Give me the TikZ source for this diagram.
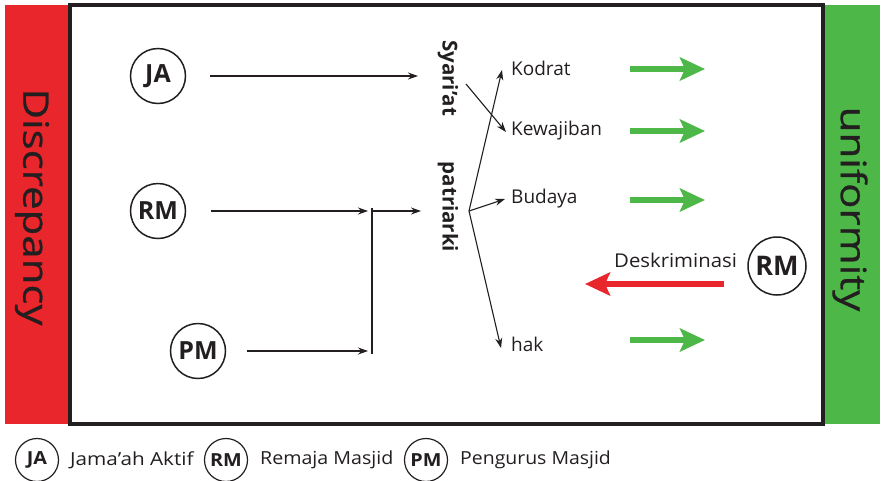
\documentclass[tikz,border=0pt]{standalone}
\usepackage{fontspec}
\usepackage{graphicx}
\setmainfont{Open Sans}
\newfontfamily\sidefont{Open Sans}[FakeBold=0.7]
\usetikzlibrary{arrows.meta}
\definecolor{barred}{HTML}{E8262B}
\definecolor{bargreen}{HTML}{4DB848}
\definecolor{ink}{HTML}{231F20}
% horizontally widened text
\newcommand{\wtext}[2]{\scalebox{#1}[1]{#2}}
\begin{document}
\begin{tikzpicture}[x=1pt,y=-1pt,color=ink,
  actor/.style={circle,draw,line width=1.5pt,minimum size=55pt,inner sep=0pt,font=\fontsize{25}{25}\selectfont\bfseries},
  legendactor/.style={circle,draw,line width=1.2pt,minimum size=43pt,inner sep=0pt,font=\fontsize{18}{18}\selectfont\bfseries},
  lbl/.style={anchor=west,inner sep=0pt,font=\fontsize{19}{19}\selectfont},
  vlbl/.style={rotate=-90,inner sep=0pt,font=\fontsize{20.5}{20.5}\selectfont\bfseries},
  sidelbl/.style={rotate=-90,inner sep=0pt,font=\fontsize{35}{35}\sidefont},
  arr/.style={-{Stealth[length=10pt,width=7pt]},line width=1.1pt},
  greenarr/.style={-{Stealth[length=25pt,width=23pt,inset=5pt]},line width=6.5pt,draw=bargreen},
  redarr/.style={-{Stealth[length=25pt,width=23pt,inset=5pt]},line width=5.5pt,draw=barred},
  legtext/.style={anchor=west,inner sep=0pt,font=\fontsize{18}{18}\selectfont}]
\useasboundingbox[fill=white] (0,0) rectangle (883,480);
% side bars and frame
\fill[barred] (5,5) rectangle (70,424);
\fill[bargreen] (823,5) rectangle (880,424);
\draw[line width=3.5pt] (70,5) rectangle (823,424);
\node[sidelbl] (disc) at (32,207) {\wtext{1.2}{Discrepancy}};
\node[sidelbl] (unif) at (850,209) {\wtext{1.2}{uniformity}};
% actors
\node[actor] (ja) at (158,76) {JA};
\node[actor] (rm) at (158,211) {RM};
\node[actor] (pm) at (198,351) {PM};
% concepts
\node[vlbl] (syariat) at (448,78) {Syari'at};
\node[vlbl] (patri) at (448,207) {patriarki};
\coordinate (syr) at (466,84);
\coordinate (pat) at (469,211);
\coordinate (junc) at (372,211);
\coordinate (pmj) at (372,354);
% outcomes
\node[lbl] (kodrat) at (511,68) {Kodrat};
\node[lbl] (kewaj) at (511,131) {Kewajiban};
\node[lbl] (budaya) at (511,199) {Budaya};
\node[lbl] (hak) at (511,344) {hak};
% connectors
\draw[arr] (ja.east) ++(24,0) coordinate (jas) -- (418,76) coordinate (jae);
\draw[arr] (rm.east) ++(25,0) coordinate (rms) -- (368,211);
\draw[arr] (pm.east) ++(21,0) coordinate (pms) -- (368,351);
\draw[line width=1.1pt] (372,208) -- (pmj);
\draw[arr] (junc) -- (421,211);
\draw[arr] (syr) -- ([xshift=-5pt,yshift=-1pt]kewaj.west);
\draw[arr] (pat) -- ([xshift=-9pt,yshift=-2pt]kodrat.west);
\draw[arr] (pat) -- ([xshift=-6pt]budaya.west);
\draw[arr] (pat) -- ([xshift=-10pt,yshift=-4pt]hak.west);
% green flow arrows
\foreach \n/\yy in {kodrat/69,kewaj/131,budaya/200,hak/340}
  \draw[greenarr] (630,\yy) -- (705,\yy);
% discrimination
\node[actor,minimum size=58pt,font=\fontsize{27}{27}\selectfont\bfseries] (rm2) at (777,266) {RM};
\node[lbl] (desk) at (614,260) {\wtext{1.07}{Deskriminasi}};
\draw[redarr] (rm2.west) ++(-23,18) coordinate (reds) -- (585,284);
% legend
\node[legendactor] (lja) at (37,460) {\wtext{1.1}{JA}};
\node[legtext] (tja) at (70,460) {\wtext{1.15}{Jama'ah Aktif}};
\node[legendactor] (lrm) at (226,460) {\wtext{1.1}{RM}};
\node[legtext] (trm) at (260,460) {\wtext{1.09}{Remaja Masjid}};
\node[legendactor] (lpm) at (426,460) {\wtext{1.1}{PM}};
\node[legtext] (tpm) at (460,460) {\wtext{1.08}{Pengurus Masjid}};
\end{tikzpicture}
\end{document}
